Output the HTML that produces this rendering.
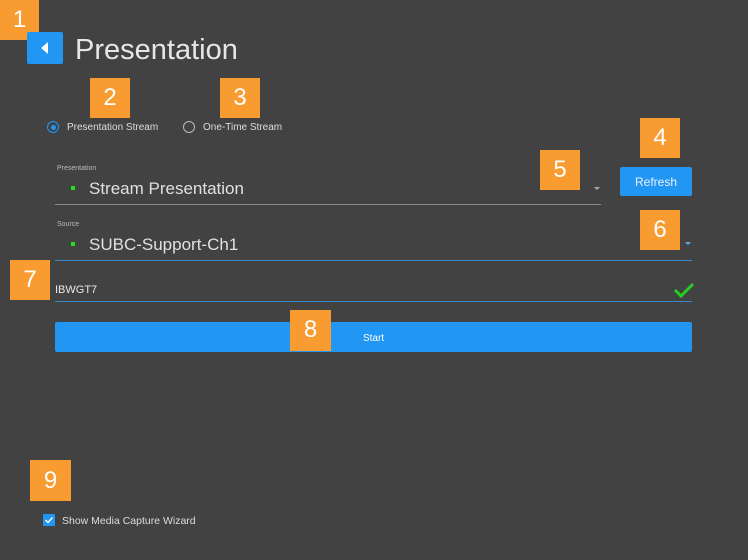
<!DOCTYPE html>
<html><head><meta charset="utf-8"><style>
html,body{margin:0;padding:0}
body{width:748px;height:560px;background:#424242;position:relative;overflow:hidden;font-family:"Liberation Sans",sans-serif;color:#e8e8e8}
.a{position:absolute}
.n{position:absolute;width:40px;height:40px;background:#f89c32;color:#fff;font-size:24px;text-align:center;line-height:40px}
.t{position:absolute;white-space:nowrap}
</style></head><body>
<div class="n" style="left:0;top:0;width:39px">1</div>
<div class="a" style="left:27px;top:32px;width:36px;height:32px;background:#2196f3;border-radius:2px"></div>
<div class="a" style="left:41px;top:42px;width:0;height:0;border-top:6px solid transparent;border-bottom:6px solid transparent;border-right:7px solid #fff"></div>
<div class="t" style="left:75px;top:34px;font-size:29px;color:#e6e6e6">Presentation</div>
<div class="n" style="left:90px;top:78px">2</div>
<div class="n" style="left:220px;top:78px">3</div>
<div class="a" style="left:47px;top:121px;width:10px;height:10px;border:1.5px solid #2196f3;border-radius:50%"></div>
<div class="a" style="left:51px;top:125px;width:5px;height:5px;background:#2196f3;border-radius:50%"></div>
<div class="t" style="left:67px;top:122px;font-size:10px;color:#ddd">Presentation Stream</div>
<div class="a" style="left:183px;top:121px;width:10px;height:10px;border:1.5px solid #bbb;border-radius:50%"></div>
<div class="t" style="left:203px;top:122px;font-size:10px;color:#ddd">One-Time Stream</div>
<div class="n" style="left:640px;top:118px">4</div>
<div class="a" style="left:620px;top:167px;width:72px;height:29px;background:#2196f3;border-radius:2px;color:#e8f2ff;font-size:12px;text-align:center;line-height:31px">Refresh</div>
<div class="n" style="left:540px;top:150px">5</div>
<div class="t" style="left:57px;top:165px;font-size:7px;color:#bbb">Presentation</div>
<div class="a" style="left:71px;top:186px;width:4px;height:4px;background:#1ee01e"></div>
<div class="t" style="left:89px;top:179px;font-size:17px;color:#e0e0e0">Stream Presentation</div>
<div class="a" style="left:594px;top:187px;border-left:3px solid transparent;border-right:3px solid transparent;border-top:3px solid #aaa"></div>
<div class="a" style="left:55px;top:204px;width:546px;height:1px;background:#8a8a8a"></div>
<div class="n" style="left:640px;top:210px">6</div>
<div class="t" style="left:57px;top:221px;font-size:7px;color:#bbb">Source</div>
<div class="a" style="left:71px;top:242px;width:4px;height:4px;background:#1ee01e"></div>
<div class="t" style="left:89px;top:235px;font-size:17px;color:#e0e0e0">SUBC-Support-Ch1</div>
<div class="a" style="left:685px;top:242px;border-left:3px solid transparent;border-right:3px solid transparent;border-top:3px solid #5aa8e8"></div>
<div class="a" style="left:55px;top:260px;width:637px;height:1px;background:#3a86c8"></div>
<div class="n" style="left:10px;top:260px">7</div>
<div class="t" style="left:55px;top:284px;font-size:11px;color:#e8e8e8">IBWGT7</div>
<svg class="a" style="left:672px;top:280px" width="24" height="20"><path d="M3 10 L9 16 L21 4" stroke="#22d022" stroke-width="3" fill="none"/></svg>
<div class="a" style="left:55px;top:301px;width:637px;height:1px;background:#3a86c8"></div>
<div class="a" style="left:55px;top:322px;width:637px;height:30px;background:#2196f3;border-radius:2px;color:#fff;font-size:10px;text-align:center;line-height:33px">Start</div>
<div class="n" style="left:290px;top:310px;width:41px;height:41px">8</div>
<div class="n" style="left:30px;top:460px;width:41px;height:41px;line-height:41px">9</div>
<div class="a" style="left:43px;top:514px;width:12px;height:12px;background:#2196f3;border-radius:1px"></div>
<svg class="a" style="left:43px;top:514px" width="12" height="12"><path d="M2.5 6 L5 8.5 L9.5 3.5" stroke="#fff" stroke-width="1.4" fill="none"/></svg>
<div class="t" style="left:62px;top:515px;font-size:10.5px;color:#ddd">Show Media Capture Wizard</div>
</body></html>
